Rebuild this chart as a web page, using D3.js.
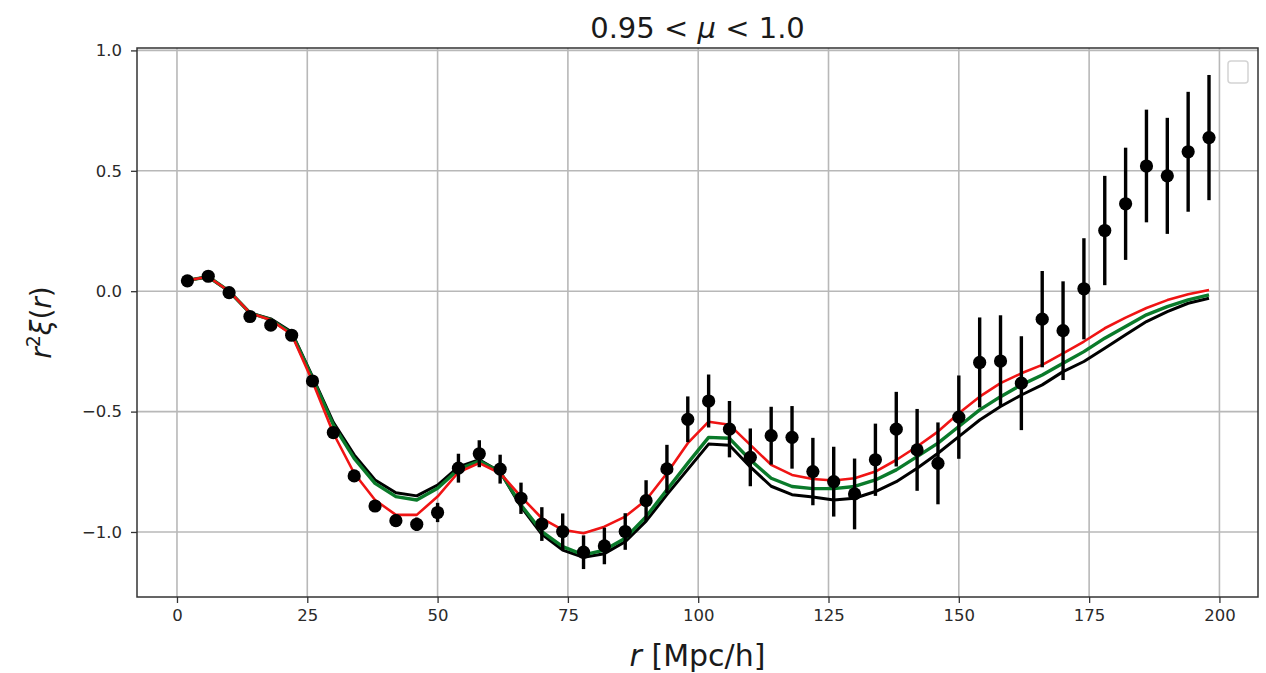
<!DOCTYPE html>
<html>
<head>
<meta charset="utf-8">
<script src="https://cdn.jsdelivr.net/npm/d3@7/dist/d3.min.js"></script>
<style>
  html, body { margin: 0; padding: 0; background: #ffffff; }
  svg { display: block; font-family: "DejaVu Sans", sans-serif; }
</style>
</head>
<body>
<svg id="chart" width="1266" height="673"></svg>
<script>
// Separation bins r [Mpc/h]
const r = [2, 6, 10, 14, 18, 22, 26, 30, 34, 38, 42, 46, 50, 54, 58, 62, 66, 70, 74, 78,
           82, 86, 90, 94, 98, 102, 106, 110, 114, 118, 122, 126, 130, 134, 138, 142, 146, 150, 154, 158,
           162, 166, 170, 174, 178, 182, 186, 190, 194, 198];

// Measured r^2 xi(r) and 1-sigma errors
const measured = [0.043, 0.062, -0.006, -0.105, -0.141, -0.183, -0.373, -0.587, -0.767, -0.892,
                  -0.953, -0.968, -0.919, -0.735, -0.675, -0.739, -0.860, -0.967, -0.998, -1.084,
                  -1.058, -0.998, -0.870, -0.738, -0.532, -0.456, -0.573, -0.690, -0.600, -0.607,
                  -0.749, -0.791, -0.842, -0.700, -0.573, -0.659, -0.715, -0.523, -0.296, -0.290,
                  -0.382, -0.116, -0.164, 0.010, 0.252, 0.363, 0.520, 0.479, 0.579, 0.638];
const errors = [0.012, 0.013, 0.014, 0.015, 0.016, 0.018, 0.019, 0.020, 0.021, 0.022,
                0.026, 0.028, 0.040, 0.060, 0.056, 0.060, 0.065, 0.070, 0.075, 0.070,
                0.076, 0.076, 0.085, 0.100, 0.095, 0.110, 0.117, 0.120, 0.120, 0.130,
                0.140, 0.145, 0.147, 0.150, 0.155, 0.170, 0.170, 0.173, 0.187, 0.190,
                0.195, 0.200, 0.205, 0.210, 0.227, 0.233, 0.234, 0.241, 0.249, 0.260];

// Model predictions
const modelBlack = [0.045, 0.060, 0.000, -0.090, -0.115, -0.170, -0.355, -0.545, -0.680, -0.784,
                    -0.837, -0.850, -0.805, -0.730, -0.700, -0.750, -0.895, -1.010, -1.075, -1.105,
                    -1.090, -1.040, -0.955, -0.845, -0.740, -0.635, -0.640, -0.730, -0.810, -0.845,
                    -0.855, -0.867, -0.860, -0.832, -0.791, -0.735, -0.673, -0.604, -0.535, -0.479,
                    -0.431, -0.389, -0.334, -0.292, -0.237, -0.181, -0.126, -0.085, -0.050, -0.029];
const modelGreen = [0.045, 0.060, 0.000, -0.090, -0.118, -0.175, -0.360, -0.555, -0.694, -0.798,
                    -0.853, -0.867, -0.818, -0.740, -0.705, -0.750, -0.888, -0.998, -1.061, -1.095,
                    -1.075, -1.026, -0.936, -0.825, -0.714, -0.607, -0.611, -0.701, -0.777, -0.811,
                    -0.820, -0.820, -0.811, -0.784, -0.742, -0.687, -0.631, -0.562, -0.493, -0.438,
                    -0.389, -0.348, -0.299, -0.251, -0.195, -0.147, -0.098, -0.064, -0.036, -0.015];
const modelRed = [0.045, 0.060, 0.000, -0.090, -0.120, -0.180, -0.375, -0.590, -0.756, -0.867,
                  -0.929, -0.929, -0.853, -0.752, -0.714, -0.756, -0.853, -0.943, -0.991, -1.005,
                  -0.978, -0.936, -0.867, -0.756, -0.631, -0.542, -0.555, -0.638, -0.721, -0.763,
                  -0.780, -0.786, -0.777, -0.749, -0.701, -0.645, -0.583, -0.507, -0.438, -0.382,
                  -0.341, -0.306, -0.258, -0.209, -0.154, -0.110, -0.070, -0.037, -0.013, 0.005];

// Axis ticks
const xTicks = [0, 25, 50, 75, 100, 125, 150, 175, 200];
const xTickLabels = ["0", "25", "50", "75", "100", "125", "150", "175", "200"];
const yTicks = [-1.0, -0.5, 0.0, 0.5, 1.0];
const yTickLabels = ["\u22121.0", "\u22120.5", "0.0", "0.5", "1.0"];

const svg = d3.select("#chart");
const plot = { left: 137, right: 1258, top: 48, bottom: 597 };

const x = d3.scaleLinear().domain([-7.67, 207.4]).range([plot.left, plot.right]);
const y = d3.scaleLinear().domain([-1.27, 1.01]).range([plot.bottom, plot.top]);

// Grid
const grid = svg.append("g").attr("stroke", "#b8b8b8").attr("stroke-width", 1.6);
xTicks.forEach(t => grid.append("line")
  .attr("x1", x(t)).attr("x2", x(t)).attr("y1", plot.top).attr("y2", plot.bottom));
yTicks.forEach(t => grid.append("line")
  .attr("x1", plot.left).attr("x2", plot.right).attr("y1", y(t)).attr("y2", y(t)));

// Axes
const xAxis = d3.axisBottom(x).tickValues(xTicks).tickSize(6).tickPadding(6)
  .tickFormat((d, i) => xTickLabels[i]);
const yAxis = d3.axisLeft(y).tickValues(yTicks).tickSize(6).tickPadding(9)
  .tickFormat((d, i) => yTickLabels[i]);

const gx = svg.append("g").attr("transform", `translate(0,${plot.bottom})`).call(xAxis);
const gy = svg.append("g").attr("transform", `translate(${plot.left},0)`).call(yAxis);
[gx, gy].forEach(g => {
  g.select(".domain").remove();
  g.selectAll(".tick line").attr("stroke", "#333").attr("stroke-width", 1.3);
  g.selectAll(".tick text").attr("fill", "#2a2a2a")
    .style("font-family", "'DejaVu Sans', sans-serif").style("font-size", "16.5px");
});

// Model curves
const pts = vals => vals.map((v, i) => [r[i], v]);
const line = d3.line().x(d => x(d[0])).y(d => y(d[1]));
const curves = svg.append("g").attr("fill", "none").attr("stroke-linejoin", "round");
curves.append("path").attr("d", line(pts(modelBlack))).attr("stroke", "#000000").attr("stroke-width", 3);
curves.append("path").attr("d", line(pts(modelGreen))).attr("stroke", "#0a7a2a").attr("stroke-width", 3.4);
curves.append("path").attr("d", line(pts(modelRed))).attr("stroke", "#f01414").attr("stroke-width", 2.6);

// Measurements with error bars
const obs = svg.append("g");
obs.selectAll("line.err").data(r).enter().append("line")
  .attr("class", "err")
  .attr("x1", d => x(d)).attr("x2", d => x(d))
  .attr("y1", (d, i) => y(measured[i] - errors[i]))
  .attr("y2", (d, i) => y(measured[i] + errors[i]))
  .attr("stroke", "#000").attr("stroke-width", 3.4);
obs.selectAll("circle").data(r).enter().append("circle")
  .attr("cx", d => x(d)).attr("cy", (d, i) => y(measured[i]))
  .attr("r", 6.6).attr("fill", "#000");

// Frame
svg.append("rect")
  .attr("x", plot.left).attr("y", plot.top)
  .attr("width", plot.right - plot.left).attr("height", plot.bottom - plot.top)
  .attr("fill", "none").attr("stroke", "#333").attr("stroke-width", 1.5);

// Empty legend frame
svg.append("rect")
  .attr("x", 1228).attr("y", 61).attr("width", 20).attr("height", 22).attr("rx", 3)
  .attr("fill", "#ffffff").attr("fill-opacity", 0.8)
  .attr("stroke", "#d4d4d4").attr("stroke-width", 1.5);

// Title
const title = svg.append("text")
  .attr("x", (plot.left + plot.right) / 2).attr("y", 38)
  .attr("text-anchor", "middle").attr("fill", "#1a1a1a").style("font-size", "29px");
title.append("tspan").text("0.95 < ");
title.append("tspan").style("font-style", "italic").text("\u03bc");
title.append("tspan").text(" < 1.0");

// x label
const xl = svg.append("text")
  .attr("x", (plot.left + plot.right) / 2).attr("y", 666)
  .attr("text-anchor", "middle").attr("fill", "#1a1a1a").style("font-size", "30px");
xl.append("tspan").style("font-style", "italic").text("r");
xl.append("tspan").text(" [Mpc/h]");

// y label
const yl = svg.append("text")
  .attr("transform", `translate(51,${(plot.top + plot.bottom) / 2}) rotate(-90)`)
  .attr("text-anchor", "middle").attr("fill", "#1a1a1a").style("font-size", "28px");
yl.append("tspan").style("font-style", "italic").text("r");
yl.append("tspan").attr("dy", -11).style("font-size", "19px").text("2");
yl.append("tspan").attr("dy", 11).style("font-style", "italic").text("\u03be");
yl.append("tspan").text("(");
yl.append("tspan").style("font-style", "italic").text("r");
yl.append("tspan").text(")");
</script>
</body>
</html>
